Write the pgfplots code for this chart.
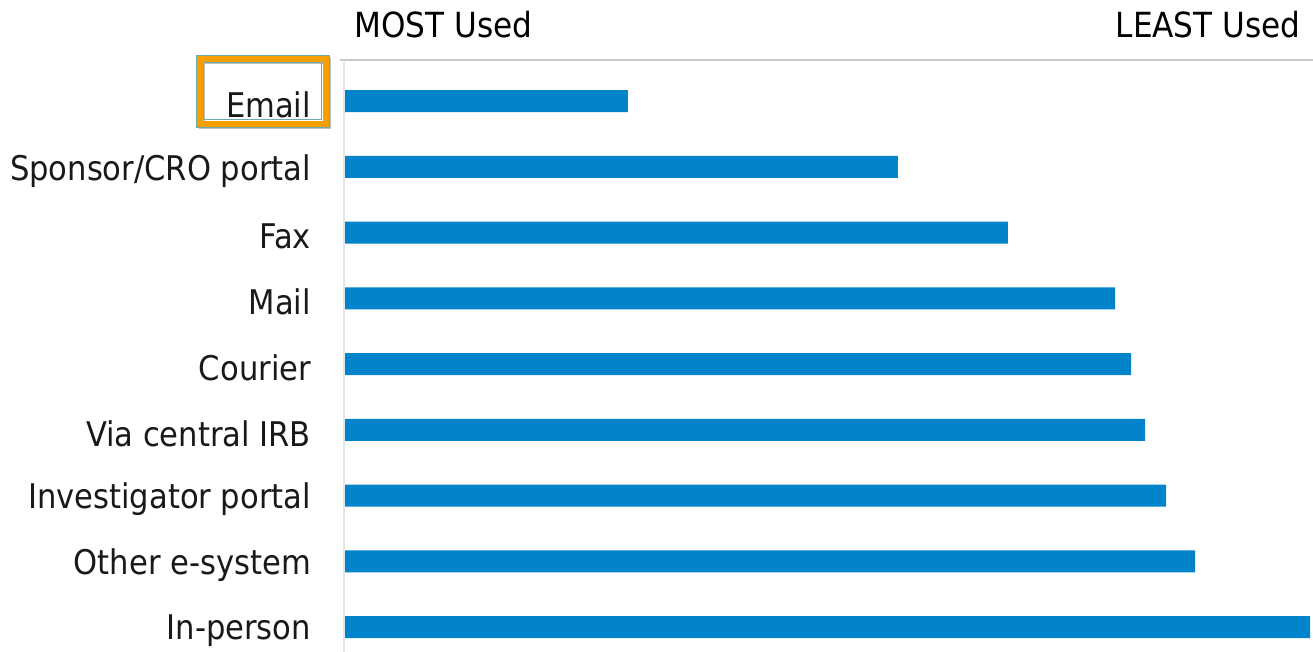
\documentclass[border=0pt]{standalone}
\usepackage{pgfplots}
\pgfplotsset{compat=1.18}
\usepackage{fontspec}
\setmainfont{DejaVu Sans Condensed}
\definecolor{barblue}{RGB}{2,132,204}
\definecolor{boxorange}{RGB}{245,160,0}
\definecolor{boxteal}{RGB}{110,170,170}
\begin{document}
\begin{tikzpicture}
\useasboundingbox (-172pt,0pt) rectangle (484.5pt,326pt);
\begin{axis}[
  scale only axis,
  width=484.5pt, height=296pt,
  xmin=0, xmax=969,
  ymin=-0.624, ymax=8.38,
  y dir=reverse,
  xbar, bar width=11pt,
  hide x axis,
  axis y line*=left,
  y axis line style={draw=none},
  ytick={0,1,2,3,4,5,6,7,8},
  yticklabels={Email,Sponsor/CRO portal,Fax,Mail,Courier,Via central IRB,Investigator portal,Other e-system,In-person},
  major tick length=0pt,
  yticklabel style={font=\fontsize{17}{18}\selectfont, color=black!90, anchor=east, xshift=-13pt, yshift=-2pt},
  clip=false,
]
\addplot[fill=barblue, draw=none, bar shift=0pt] coordinates {
 (284,0) (554,1) (664,2) (771,3) (787,4) (801,5) (822,6) (851,7) (966,8)};
\end{axis}
% axis lines
\draw[line width=1.2pt, color=black!22] (-2pt,296pt) -- (484.5pt,296pt);
\draw[line width=0.8pt, color=black!10] (0pt,295pt) -- (0pt,0pt);
% titles
\node[anchor=base west, font=\fontsize{17.3}{18}\selectfont, inner sep=0pt] at (5pt,307pt) {MOST Used};
\node[anchor=base east, font=\fontsize{17.3}{18}\selectfont, inner sep=0pt] at (478.5pt,307pt) {LEAST Used};
% highlight box
\draw[line width=3.4pt, color=black!25] (-71pt,295.5pt) rectangle (-8pt,263pt);
\draw[line width=3.4pt, color=boxorange] (-72pt,296.5pt) rectangle (-9pt,264pt);
\draw[line width=0.5pt, color=boxteal] (-70pt,294.5pt) rectangle (-11pt,266pt);
\draw[line width=0.5pt, color=boxteal] (-73.8pt,298.3pt) rectangle (-7.2pt,262.2pt);
\end{tikzpicture}
\end{document}
